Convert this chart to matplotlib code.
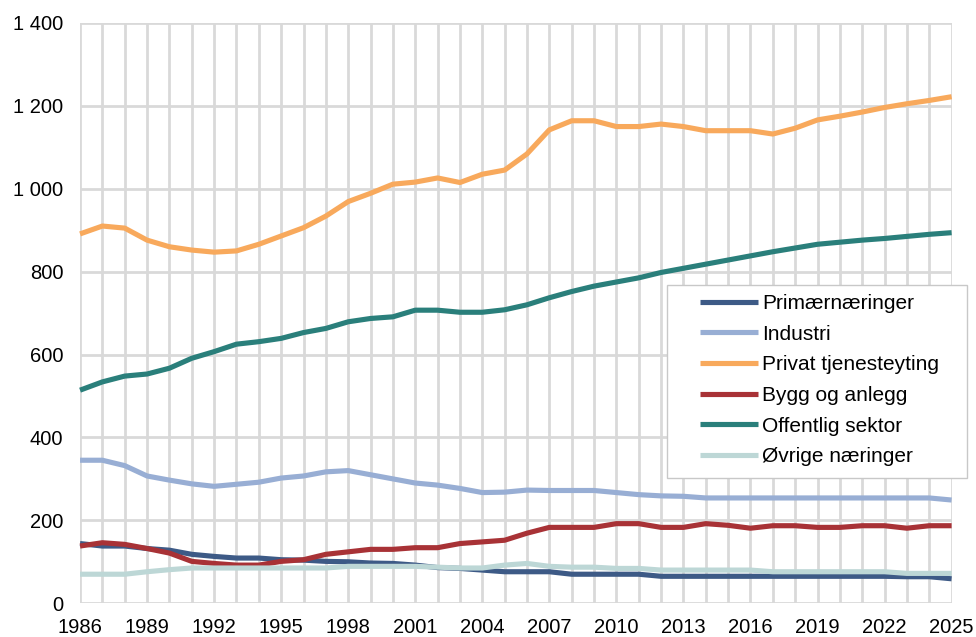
from matplotlib import pyplot as plt
from matplotlib.patches import Rectangle
from matplotlib.ticker import FuncFormatter

plt.rcParams['font.family'] = ['Liberation Sans', 'DejaVu Sans']

years = list(range(1986, 2026))

primaer = [144, 138, 138, 132, 128, 118, 113, 109, 109, 105, 104, 101, 100, 97, 96, 92, 86, 84, 80,
           76, 76, 76, 70, 70, 70, 70, 65, 65, 65, 65, 65, 65, 65, 65, 65, 65, 65, 64, 64, 59]
industri = [345, 345, 332, 307, 297, 288, 282, 287, 292, 302, 307, 317, 320, 310, 300, 290, 285, 277, 267,
            268, 273, 272, 272, 272, 267, 262, 259, 258, 254, 254, 254, 254, 254, 254, 254, 254, 254, 254, 254, 249]
privat = [891, 910, 905, 876, 860, 852, 847, 850, 866, 886, 906, 934, 969, 989, 1011, 1016, 1026, 1015, 1035,
          1045, 1084, 1142, 1164, 1164, 1150, 1150, 1156, 1150, 1140, 1140, 1140, 1132, 1146, 1166, 1175, 1185,
          1196, 1205, 1213, 1222]
bygg = [138, 146, 142, 132, 121, 101, 96, 92, 92, 101, 105, 118, 124, 130, 130, 134, 134, 144, 148,
        152, 169, 183, 183, 183, 192, 192, 183, 183, 192, 188, 181, 187, 187, 183, 183, 187, 187, 181, 187, 187]
offentlig = [514, 534, 548, 553, 567, 591, 607, 625, 631, 639, 653, 663, 679, 687, 691, 707, 707, 702, 702,
             708, 720, 737, 752, 765, 775, 785, 798, 808, 818, 828, 838, 848, 857, 866, 871, 876, 880, 885, 890, 894]
ovrige = [70, 70, 70, 76, 81, 85, 85, 85, 85, 85, 85, 85, 89, 89, 89, 89, 87, 85, 85,
          92, 96, 89, 87, 87, 84, 84, 80, 80, 80, 80, 80, 76, 76, 76, 76, 76, 76, 72, 72, 72]

series = [
    ('Primærnæringer', primaer, '#3d5a86'),
    ('Industri', industri, '#98aed4'),
    ('Privat tjenesteyting', privat, '#f8a95c'),
    ('Bygg og anlegg', bygg, '#a83236'),
    ('Offentlig sektor', offentlig, '#2a7f7b'),
    ('Øvrige næringer', ovrige, '#bdd7d6'),
]

fig = plt.figure(figsize=(9.76, 6.37), dpi=100)
ax = fig.add_axes([0.082, 0.053, 0.893, 0.911])

for label, vals, color in series:
    ax.plot(years, vals, color=color, linewidth=3.7, label=label, clip_on=False,
            solid_capstyle='butt', solid_joinstyle='round', zorder=3)

ax.set_xlim(1986, 2025)
ax.set_ylim(0, 1400)
ax.set_xticks(years, minor=True)
ax.set_xticks(range(1986, 2026, 3))
ax.set_yticks(range(0, 1401, 200))
ax.yaxis.set_major_formatter(FuncFormatter(lambda v, p: f'{int(v):,}'.replace(',', ' ')))

ax.grid(True, which='both', axis='x', color='#d9d9d9', linewidth=2)
ax.grid(True, which='major', axis='y', color='#d9d9d9', linewidth=2)
ax.set_axisbelow(True)
for s in ax.spines.values():
    s.set_visible(False)
ax.tick_params(which='both', length=0, labelsize=14.5)
ax.tick_params(axis='x', pad=10.5)
ax.tick_params(axis='y', pad=12)

# legend box (sticks out past the plot area like in the original)
box = Rectangle((0.674, 0.2155), 0.344, 0.333, transform=ax.transAxes, facecolor='white',
                edgecolor='#c8c8c8', linewidth=1, clip_on=False, zorder=5)
ax.add_patch(box)
leg = ax.legend(loc='upper left', bbox_to_anchor=(0.711, 0.533), borderaxespad=0, borderpad=0,
                fontsize=15, frameon=False, handlelength=2.8, handletextpad=0.2, labelspacing=0.56)
leg.set_zorder(6)

fig.savefig('out.png', dpi=100)
